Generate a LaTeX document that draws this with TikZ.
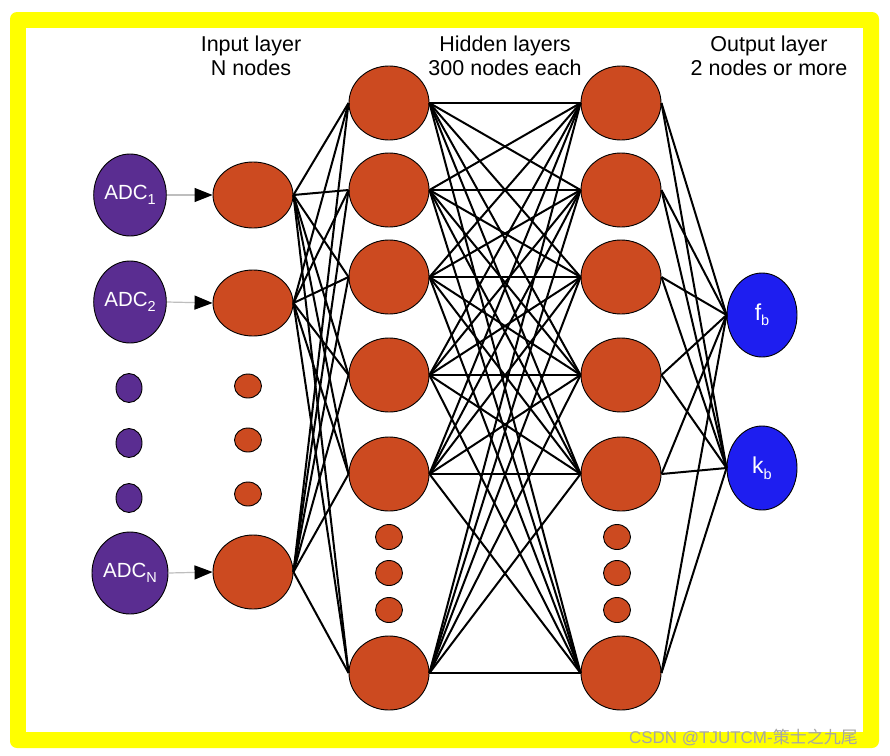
\documentclass[tikz,border=0pt]{standalone}
\usepackage{fontspec}
\setmainfont{Liberation Sans}
\newfontfamily\cjk{Noto Sans CJK SC}
\usetikzlibrary{shapes.geometric,arrows.meta}
\definecolor{nnorange}{RGB}{204,74,32}
\definecolor{nnpurple}{RGB}{90,45,145}
\definecolor{nnblue}{RGB}{30,30,240}
\definecolor{frameyellow}{RGB}{255,255,0}
\definecolor{feedgray}{RGB}{190,190,190}
\newcommand{\sbs}[1]{\raisebox{-0.45ex}{\fontsize{14.5}{14.5}\selectfont #1}}
\tikzset{
  neuron/.style={ellipse, draw=black, line width=0.9pt, fill=nnorange, inner sep=0pt,
                 minimum width=80pt, minimum height=74pt},
  smalldot/.style={ellipse, draw=black, line width=0.9pt, fill=nnorange, inner sep=0pt,
                 minimum width=27pt, minimum height=25pt},
  adcnode/.style={ellipse, draw=black, line width=0.9pt, fill=nnpurple, inner sep=0pt,
                 minimum width=72pt, minimum height=82pt, text=white,
                 font=\fontsize{20.5}{20.5}\selectfont},
  adcdot/.style={ellipse, draw=black, line width=0.9pt, fill=nnpurple, inner sep=0pt,
                 minimum width=26pt, minimum height=29pt},
  outnode/.style={ellipse, draw=black, line width=0.9pt, fill=nnblue, inner sep=0pt,
                 minimum width=70pt, minimum height=84pt, text=white,
                 font=\fontsize{23}{23}\selectfont},
  conn/.style={draw=black, line width=2pt},
  feed/.style={draw=feedgray, line width=1.2pt, -{Triangle[length=18pt,width=14pt,color=black]}},
  header/.style={align=center, font=\fontsize{21.5}{24}\selectfont, text=black}
}
\begin{document}
\begin{tikzpicture}[x=1pt,y=-1pt]
\useasboundingbox (0,0) rectangle (890,755);
\fill[white] (0,0) rectangle (890,755);
\fill[frameyellow, rounded corners=7pt] (10,12) rectangle (879,748);
\fill[white] (26,28) rectangle (863,732);

% headers
\node[header] (hin) at (251,56) {Input layer\\N nodes};
\node[header] (hhid) at (505,56) {Hidden layers\\300 nodes each};
\node[header] (hout) at (769,56) {Output layer\\2 nodes or more};

% ADC inputs
\node[adcnode] (adc1) at (130,195) {ADC\sbs{1}};
\node[adcnode] (adc2) at (130,302) {ADC\sbs{2}};
\node[adcdot] (ad1) at (129,388) {};
\node[adcdot] (ad2) at (129,443) {};
\node[adcdot] (ad3) at (129,498) {};
\node[adcnode] (adcN) at (130,573) {ADC\sbs{N}};

% input layer
\node[neuron, minimum height=66pt] (in1) at (253,195) {};
\node[neuron, minimum height=66pt] (in2) at (253,303) {};
\node[smalldot, minimum height=24pt] (id1) at (248,386) {};
\node[smalldot, minimum height=24pt] (id2) at (248,440) {};
\node[smalldot, minimum height=24pt] (id3) at (248,494) {};
\node[neuron, minimum height=74pt] (inN) at (253,572) {};

% hidden layer 1
\node[neuron] (ha1) at (389,103) {};
\node[neuron] (ha2) at (389,190) {};
\node[neuron] (ha3) at (389,277) {};
\node[neuron] (ha4) at (389,375) {};
\node[neuron] (ha5) at (389,474) {};
\node[smalldot] (hda1) at (389,537) {};
\node[smalldot] (hda2) at (389,573) {};
\node[smalldot] (hda3) at (389,610) {};
\node[neuron] (ha6) at (389,673) {};

% hidden layer 2
\node[neuron] (hb1) at (621,103) {};
\node[neuron] (hb2) at (621,190) {};
\node[neuron] (hb3) at (621,277) {};
\node[neuron] (hb4) at (621,375) {};
\node[neuron] (hb5) at (621,474) {};
\node[smalldot] (hdb1) at (617,537) {};
\node[smalldot] (hdb2) at (617,573) {};
\node[smalldot] (hdb3) at (617,610) {};
\node[neuron] (hb6) at (621,673) {};

% output layer
\node[outnode] (fb) at (762,315) {f\sbs{b}};
\node[outnode] (kb) at (762,468) {k\sbs{b}};

% feed arrows
\draw[feed] (adc1.east) -- (in1.west);
\draw[feed] (adc2.east) -- (in2.west);
\draw[feed] (adcN.east) -- (inN.west);

% connections
\foreach \a in {in1,in2,inN}
  \foreach \b in {ha1,ha2,ha3,ha4,ha5,ha6}
    \draw[conn] (\a.east) -- (\b.west);
\foreach \a in {ha1,ha2,ha3,ha4,ha5,ha6}
  \foreach \b in {hb1,hb2,hb3,hb4,hb5,hb6}
    \draw[conn] (\a.east) -- (\b.west);
\foreach \a in {hb1,hb2,hb3,hb4,hb5,hb6}
  \foreach \b in {fb,kb}
    \draw[conn] (\a.east) -- (\b.west);

% watermark
\node[anchor=south east, inner sep=0pt, text=gray!70, font=\fontsize{17}{17}\selectfont]
  (wm) at (858,746) {CSDN @TJUTCM-{\cjk 策士之九尾}};
\end{tikzpicture}
\end{document}
